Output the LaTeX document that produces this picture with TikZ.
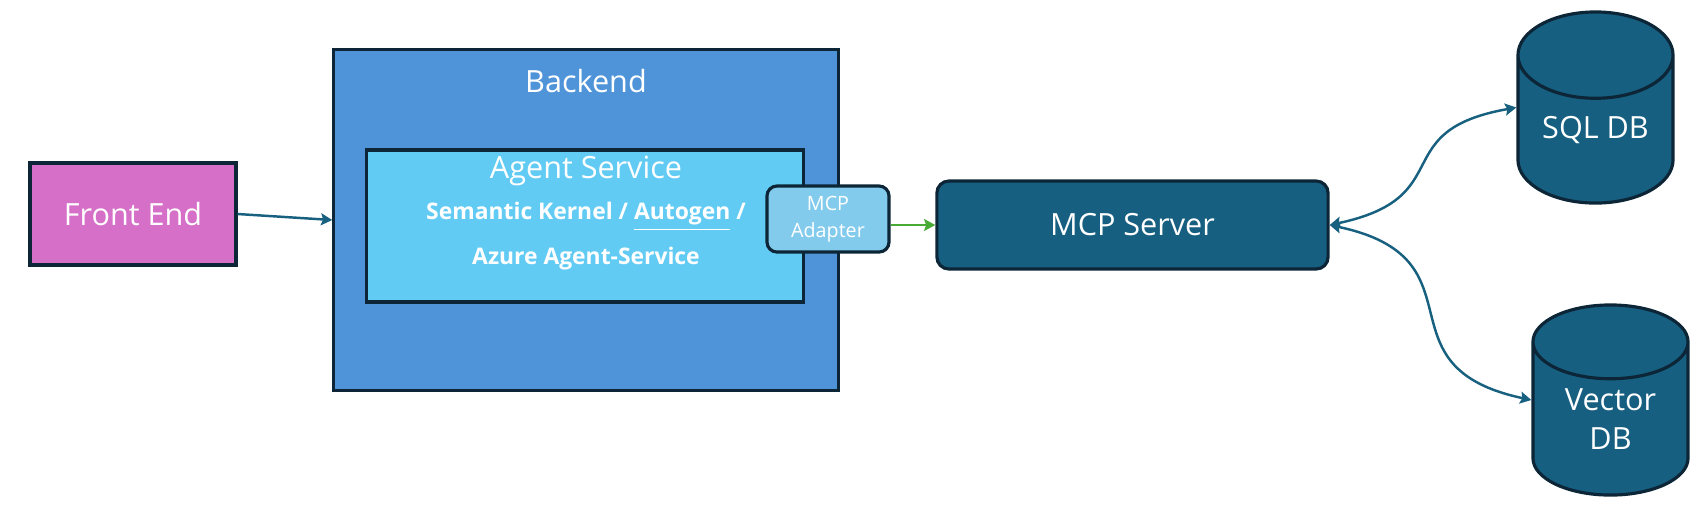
\documentclass[tikz,border=0pt]{standalone}
\usepackage{fontspec}
\setmainfont{Open Sans}
\usetikzlibrary{arrows.meta,shapes.geometric}
\definecolor{edgenavy}{HTML}{0C2637}
\definecolor{frontpink}{HTML}{D56FC8}
\definecolor{backblue}{HTML}{4F94D9}
\definecolor{agentblue}{HTML}{62CBF4}
\definecolor{adaptblue}{HTML}{83CBEC}
\definecolor{serverteal}{HTML}{165F80}
\definecolor{linkblue}{HTML}{18607F}
\definecolor{linkgreen}{HTML}{4AAA36}
\newcommand{\bigtxt}{\fontsize{8.7}{11.1}\selectfont}
\newcommand{\subtxt}{\fontsize{6.5}{7.7}\bfseries\selectfont}
\newcommand{\tinytxt}{\fontsize{5.6}{7.7}\selectfont}
\begin{document}
\begin{tikzpicture}[x=0.01cm, y=-0.01cm,
    >={Stealth[length=3.2pt, width=3.4pt, inset=0.6pt]},
    box/.style={draw=edgenavy, line width=0.9pt, text=white, inner sep=0pt},
    dbshape/.style={box, cylinder, shape border rotate=90, aspect=0.81, fill=serverteal, align=center, font=\bigtxt},
    link/.style={draw=linkblue, line width=0.7pt}]
    \useasboundingbox (0,0) rectangle (1699,529);

    % boxes
    \node [box, fill=frontpink, minimum width=2.06cm, minimum height=1.02cm, font=\bigtxt] (front) at (133,214) {Front End};
    \node [box, fill=backblue, minimum width=5.04cm, minimum height=3.40cm] (backend) at (586,220) {};
    \node [text=white, font=\bigtxt, anchor=base] (backendT) at (586,92) {Backend};
    \node [box, fill=agentblue, minimum width=4.36cm, minimum height=1.52cm] (agent) at (585,226) {};
    \node [text=white, font=\bigtxt, anchor=base] (agentT) at (586,178) {Agent Service};
    \node [text=white, font=\subtxt, anchor=base] (agentS1) at (586,219) {Semantic Kernel / \underline{Autogen} /};
    \node [text=white, font=\subtxt, anchor=base] (agentS2) at (586,264) {Azure Agent-Service};
    \node [box, fill=adaptblue, rounded corners=0.1cm, minimum width=1.22cm, minimum height=0.66cm, align=center, font=\tinytxt] (adapter) at (828,219) {MCP\\Adapter};
    \node [box, fill=serverteal, rounded corners=0.12cm, minimum width=3.91cm, minimum height=0.88cm, font=\bigtxt] (mcp) at (1132.5,225) {MCP Server};

    % databases
    \node [dbshape, minimum width=1.55cm, minimum height=1.91cm, anchor=shape center] (sql) at (1595.5,107.5) {SQL DB};
    \node [dbshape, minimum width=1.55cm, minimum height=1.90cm, anchor=shape center] (vector) at (1610.5,400) {Vector\\DB};

    % links
    \draw [link, ->] (front.east) -- (backend.west);
    \draw [draw=linkgreen, line width=0.7pt, ->] (mcp.west -| adapter.east) -- (mcp.west);
    \draw [link, <->] (mcp.east) to [out=12, in=190, looseness=1.55] (sql.shape center -| sql.west);
    \draw [link, <->] (mcp.east) to [out=-12, in=168, looseness=1.55] (vector.shape center -| vector.west);
\end{tikzpicture}
\end{document}
